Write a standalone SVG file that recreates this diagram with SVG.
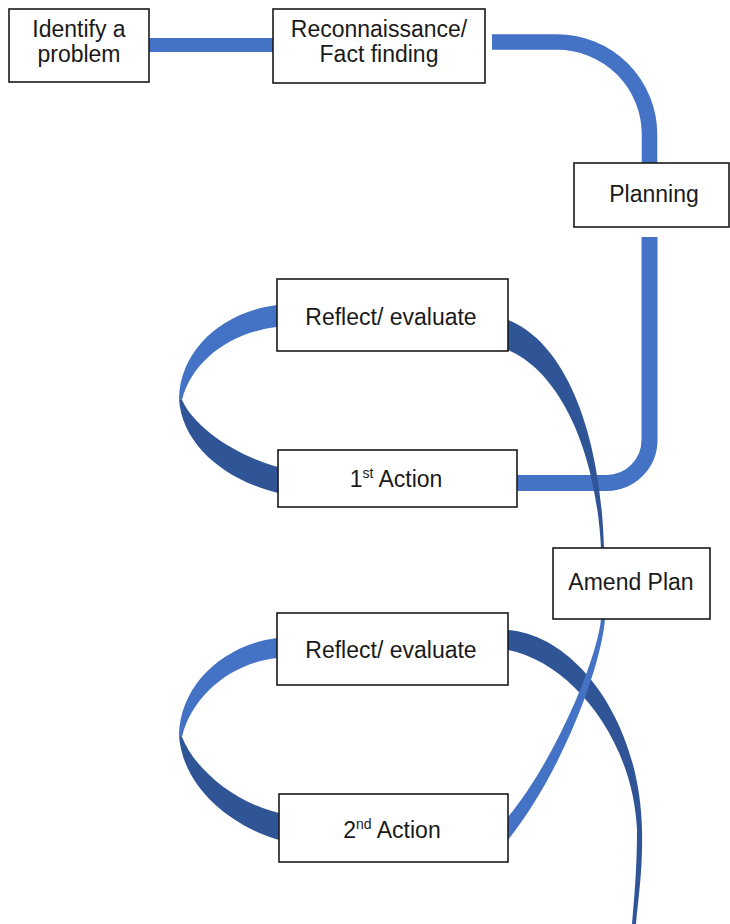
<svg xmlns="http://www.w3.org/2000/svg" width="730" height="924" viewBox="0 0 730 924">
  <style>
    .box { fill: #ffffff; stroke: #1a1a1a; stroke-width: 1.6; }
    .lbl { font-family: "Liberation Sans", Arial, sans-serif; font-size: 23px; fill: #1a1a1a; text-anchor: middle; }
    .sup { font-size: 14px; }
    .band { fill: none; stroke: #4472C4; }
    .light { fill: #4472C4; }
    .dark { fill: #2F5597; }
  </style>

  <!-- ribbons linking the stages -->
  <g id="connectors">
    <rect class="light" x="149" y="38" width="124" height="14"/>
    <path class="band" stroke-width="15.5" d="M 492 42 H 557 A 92.5 92.5 0 0 1 649.5 134.5 V 163"/>
    <path class="band" stroke-width="16" d="M 649.5 237 V 440 A 43 43 0 0 1 606.5 483 H 517"/>

    <!-- first cycle: left loop (twists at its leftmost point) -->
    <path class="light" d="M 277 305 C 222 312 180 350 179 399 L 182 400 C 192 360 232 332 277 327 Z"/>
    <path class="dark" d="M 179 399 C 182 445 225 480 278 493 L 278 467 C 235 455 195 428 182 400 Z"/>
    <!-- first cycle: reflect to amend -->
    <path class="dark" d="M 508 320 C 560 340 600 420 604 548 L 601 548 C 596 450 560 372 508 350 Z"/>

    <!-- second cycle: left loop -->
    <path class="light" d="M 277 638 C 222 645 180 686 179 735 L 182 737 C 192 695 232 663 277 658 Z"/>
    <path class="dark" d="M 179 735 C 182 785 228 825 279 840 L 279 813 C 236 803 195 770 182 737 Z"/>
    <!-- second cycle: reflect onwards -->
    <path class="dark" d="M 508 630 C 575 635 640 720 642 830 C 643 870 638 900 636 924 L 632 924 C 634 900 637 870 637 830 C 633 738 570 662 508 650 Z"/>
    <!-- amend to second action -->
    <path class="light" d="M 605 619 C 602 662 565 768 508 840 L 508 817 C 555 760 597 660 601 619 Z"/>
  </g>

  <g id="identify">
    <rect class="box" x="9" y="9" width="140" height="73"/>
    <text class="lbl" x="79" y="37">Identify a</text>
    <text class="lbl" x="79" y="62">problem</text>
  </g>

  <g id="recon">
    <rect class="box" x="273" y="9" width="212" height="74"/>
    <text class="lbl" x="379" y="37">Reconnaissance/</text>
    <text class="lbl" x="379" y="62">Fact finding</text>
  </g>

  <g id="planning">
    <rect class="box" x="574" y="163" width="155" height="64"/>
    <text class="lbl" x="654" y="202">Planning</text>
  </g>

  <g id="reflect1">
    <rect class="box" x="277" y="279" width="231" height="72"/>
    <text class="lbl" x="391" y="325">Reflect/ evaluate</text>
  </g>

  <g id="action1">
    <rect class="box" x="278" y="450" width="239" height="57"/>
    <text class="lbl" x="396" y="487">1<tspan class="sup" dy="-9">st</tspan><tspan dy="9"> Action</tspan></text>
  </g>

  <g id="amend">
    <rect class="box" x="553" y="548" width="157" height="71"/>
    <text class="lbl" x="631" y="590">Amend Plan</text>
  </g>

  <g id="reflect2">
    <rect class="box" x="277" y="613" width="231" height="72"/>
    <text class="lbl" x="391" y="658">Reflect/ evaluate</text>
  </g>

  <g id="action2">
    <rect class="box" x="279" y="794" width="229" height="68"/>
    <text class="lbl" x="392" y="838">2<tspan class="sup" dy="-9">nd</tspan><tspan dy="9"> Action</tspan></text>
  </g>
</svg>
